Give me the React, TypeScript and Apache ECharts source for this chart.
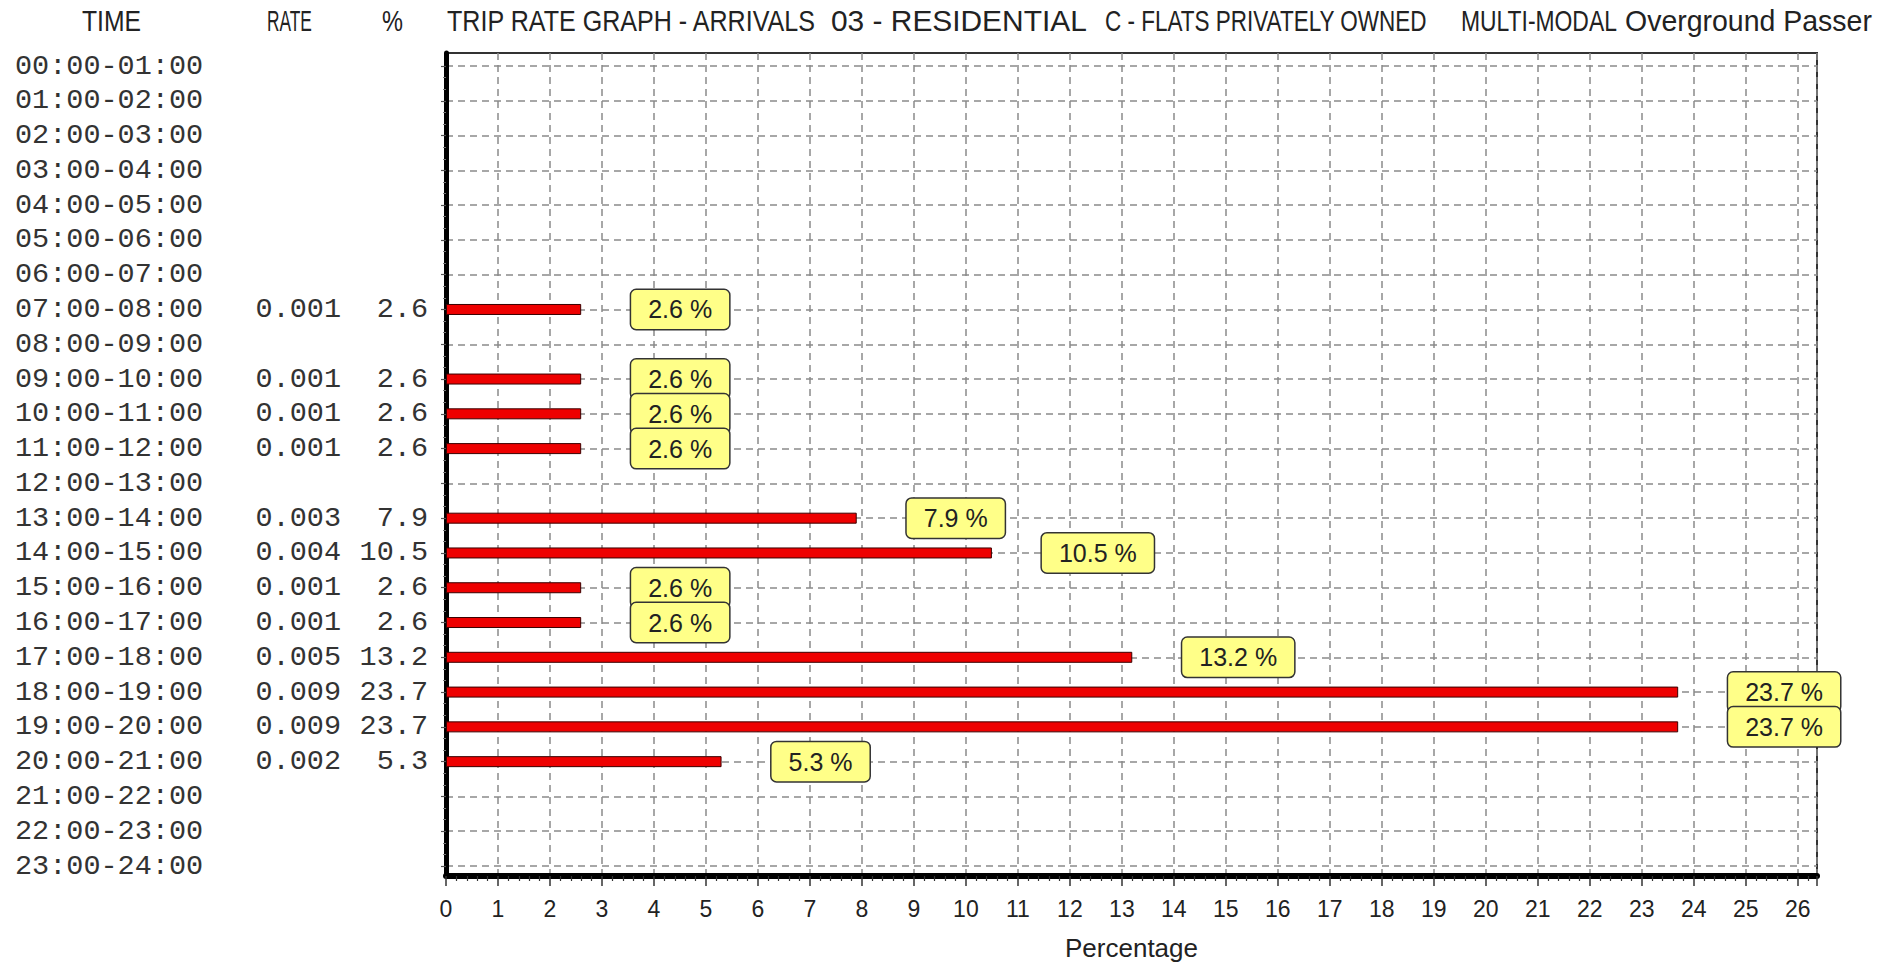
import React, { useEffect, useRef } from "react";
import * as echarts from "echarts";

// ---- data ----
const times: string[] = [
  "00:00-01:00", "01:00-02:00", "02:00-03:00", "03:00-04:00", "04:00-05:00", "05:00-06:00",
  "06:00-07:00", "07:00-08:00", "08:00-09:00", "09:00-10:00", "10:00-11:00", "11:00-12:00",
  "12:00-13:00", "13:00-14:00", "14:00-15:00", "15:00-16:00", "16:00-17:00", "17:00-18:00",
  "18:00-19:00", "19:00-20:00", "20:00-21:00", "21:00-22:00", "22:00-23:00", "23:00-24:00",
];
const rates: (number | null)[] = [
  null, null, null, null, null, null,
  null, 0.001, null, 0.001, 0.001, 0.001,
  null, 0.003, 0.004, 0.001, 0.001, 0.005,
  0.009, 0.009, 0.002, null, null, null,
];
const pcts: (number | null)[] = [
  null, null, null, null, null, null,
  null, 2.6, null, 2.6, 2.6, 2.6,
  null, 7.9, 10.5, 2.6, 2.6, 13.2,
  23.7, 23.7, 5.3, null, null, null,
];
const headerTexts: string[] = [
  "TIME", "RATE", "%",
  "TRIP RATE GRAPH - ARRIVALS", "03 - RESIDENTIAL", "C - FLATS PRIVATELY OWNED",
  "MULTI-MODAL", "Overground Passer",
];
const xAxisName = "Percentage";
const xMin = 0;
const xMax = 26.37;
const xInterval = 1;

// ---- layout (not data) ----
const headerSpans: [number, number][] = [
  [82, 141], [267, 312], [382, 403],
  [447, 817], [831, 1087], [1105, 1427], [1461, 1617], [1625, 1872],
];
const W = 1896;
const H = 966;
const PLOT_L = 446;
const PLOT_R = 1817;
const FRAME_T = 53;
const FRAME_B = 880;
const ROW_T = 66;
const ROW_B = 866;

const HEADER_FONT_SIZE = 29;
const HEADER_FAMILY = '"Liberation Sans", Arial, sans-serif';
const HEADER_FONT = `${HEADER_FONT_SIZE}px "Liberation Sans", Arial, sans-serif`;

function measure(text: string, font: string): number {
  const c = document.createElement("canvas").getContext("2d");
  if (!c) return text.length * 15;
  c.font = font;
  return c.measureText(text).width;
}

const gridLineStyle = { color: "#8a8a8a", width: 1.5, type: [7, 5] as number[] };

export default function App() {
  const ref = useRef<HTMLDivElement>(null);

  useEffect(() => {
    document.body.style.margin = "0";
    if (!ref.current) return;
    const chart = echarts.init(ref.current, undefined, { renderer: "svg" });

    const graphic = headerTexts.map((t, i) => {
      const [x0, x1] = headerSpans[i];
      const w = measure(t, HEADER_FONT);
      return {
        type: "text",
        x: x0,
        y: 21,
        scaleX: (x1 - x0) / w,
        style: {
          text: t,
          fontFamily: HEADER_FAMILY,
          fontSize: HEADER_FONT_SIZE,
          fill: "#222",
          align: "left",
          verticalAlign: "middle",
        },
      };
    });

    const monoStyle = {
      fontFamily: '"Liberation Mono", "Courier New", monospace',
      fontSize: 28.5,
      color: "#333",
    };

    const option: any = {
      animation: false,
      backgroundColor: "#ffffff",
      graphic,
      grid: [
        {
          left: PLOT_L, right: W - PLOT_R, top: FRAME_T, bottom: H - FRAME_B,
          show: true, borderColor: "#333", borderWidth: 2, backgroundColor: "transparent",
        },
        { left: PLOT_L, right: W - PLOT_R, top: ROW_T, bottom: H - ROW_B, show: false },
        { left: PLOT_L, right: W - PLOT_R, top: ROW_T, bottom: H - ROW_B, show: false },
      ],
      xAxis: [
        {
          gridIndex: 0, type: "value", min: xMin, max: xMax, interval: xInterval,
          name: xAxisName, nameLocation: "middle", nameGap: 59,
          nameTextStyle: { fontFamily: '"Liberation Sans", Arial, sans-serif', fontSize: 26, color: "#222" },
          axisLine: { show: true, onZero: false, lineStyle: { color: "#000", width: 6 } },
          axisTick: { show: true, inside: false, length: 10, lineStyle: { color: "#333", width: 1.5 } },
          minorTick: { show: true, splitNumber: 5, length: 5, lineStyle: { color: "#333", width: 1.2 } },
          axisLabel: {
            show: true, margin: 21, showMaxLabel: false,
            fontFamily: '"Liberation Sans", Arial, sans-serif', fontSize: 23, color: "#222",
          },
          splitLine: { show: true, lineStyle: gridLineStyle },
        },
        {
          gridIndex: 1, type: "value", min: xMin, max: xMax,
          axisLine: { show: false }, axisTick: { show: false }, axisLabel: { show: false },
          splitLine: { show: false },
        },
        {
          gridIndex: 2, type: "value", min: xMin, max: xMax,
          axisLine: { show: false }, axisTick: { show: false }, axisLabel: { show: false },
          splitLine: { show: false },
        },
      ],
      yAxis: [
        {
          gridIndex: 0, type: "value", min: 0, max: 1,
          axisLine: { show: true, onZero: false, lineStyle: { color: "#000", width: 5 } },
          axisTick: { show: false }, axisLabel: { show: false }, splitLine: { show: false },
        },
        {
          gridIndex: 1, type: "category", data: times, inverse: true, boundaryGap: false,
          axisLine: { show: false }, axisTick: { show: false },
          axisLabel: {
            interval: 0,
            margin: 18,
            formatter: (v: string, i: number) => {
              const r = rates[i];
              const p = pcts[i];
              return `{t|${v}}{r|${r != null ? r.toFixed(3) : " "}}{p|${p != null ? p.toFixed(1) : " "}}`;
            },
            rich: {
              t: { ...monoStyle, width: 226, align: "left" },
              r: { ...monoStyle, width: 100, align: "right" },
              p: { ...monoStyle, width: 87, align: "right" },
            },
          },
          splitLine: { show: true, interval: 0, lineStyle: gridLineStyle },
        },
        {
          gridIndex: 2, type: "value", min: 0, max: times.length - 1, interval: 1, inverse: true,
          axisLine: { show: false },
          axisTick: { show: true, inside: false, length: 5, lineStyle: { color: "#555", width: 1.2 } },
          minorTick: { show: true, splitNumber: 3, length: 3, lineStyle: { color: "#777", width: 1 } },
          axisLabel: { show: false }, splitLine: { show: false },
        },
      ],
      series: [
        {
          type: "bar",
          xAxisIndex: 1,
          yAxisIndex: 1,
          data: pcts,
          barWidth: 11,
          itemStyle: { color: "#ee0000", borderColor: "#3a0000", borderWidth: 1 },
          z: 5,
          label: {
            show: true,
            position: "right",
            distance: 50,
            formatter: (p: any) => (p.value == null ? "" : `${Number(p.value).toFixed(1)} %`),
            backgroundColor: "#ffff88",
            borderColor: "#333",
            borderWidth: 1.5,
            borderRadius: 5,
            padding: [6, 17, 6, 17],
            lineHeight: 27,
            fontFamily: '"Liberation Sans", Arial, sans-serif',
            fontSize: 25,
            color: "#222",
          },
        },
      ],
    };

    chart.setOption(option);
    return () => chart.dispose();
  }, []);

  return (
    <div
      ref={ref}
      style={{ position: "fixed", left: 0, top: 0, width: W, height: H, background: "#fff" }}
    />
  );
}
